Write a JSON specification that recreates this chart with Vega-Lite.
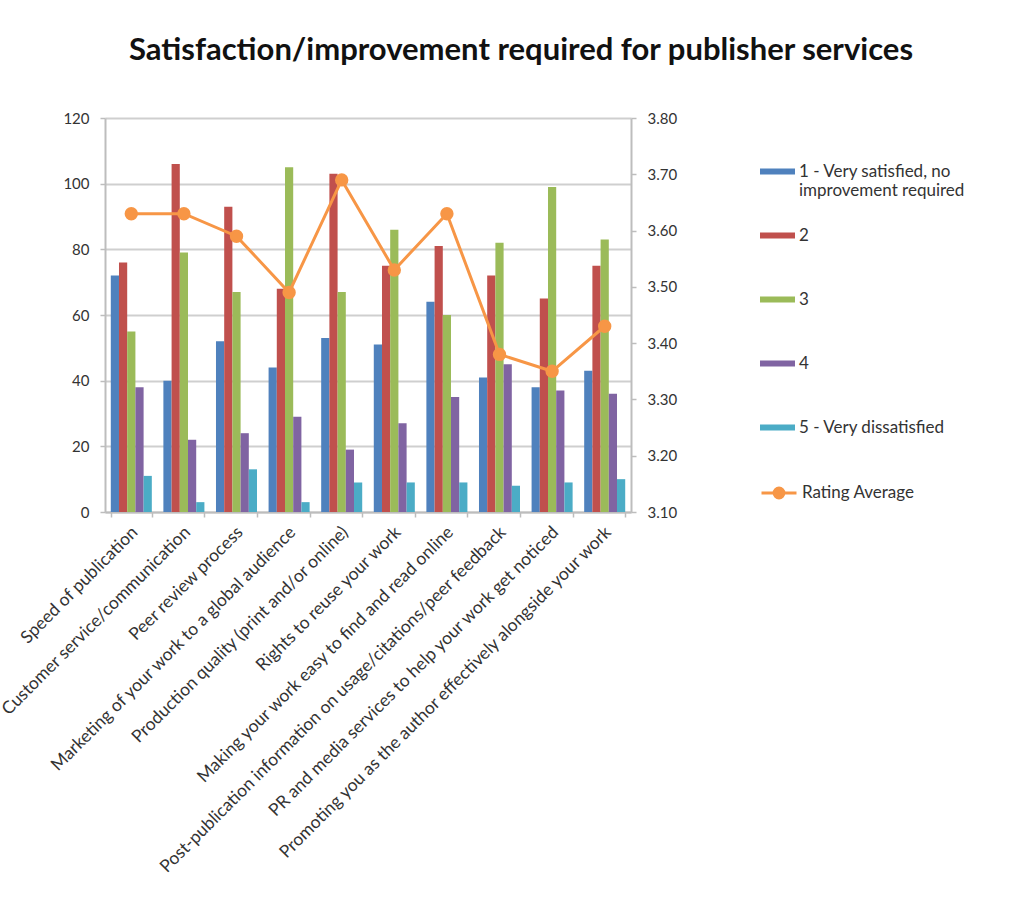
{
  "$schema": "https://vega.github.io/schema/vega-lite/v6.json",
  "width": 526,
  "height": 394,
  "autosize": {"type": "none"},
  "padding": {"left": 105, "top": 118, "right": 381, "bottom": 402},
  "background": "white",
  "title": {
    "text": "Satisfaction/improvement required for publisher services",
    "font": "Lato",
    "fontSize": 31,
    "fontWeight": "bold",
    "color": "#111111",
    "anchor": "middle",
    "dx": 153,
    "offset": 44
  },
  "config": {
    "font": "Lato",
    "view": {"stroke": null},
    "axis": {
      "labelFont": "Lato",
      "labelColor": "#333333",
      "domainColor": "#bdbdbd",
      "domainWidth": 2,
      "tickColor": "#bdbdbd",
      "tickWidth": 1.5,
      "gridColor": "#cfcfcf",
      "gridWidth": 2
    },
    "legend": {"labelFont": "Lato", "labelColor": "#333333"}
  },
  "datasets": {
    "bars": [
      {"service": "Speed of publication", "rating": "1 - Very satisfied, no improvement required", "count": 72},
      {"service": "Speed of publication", "rating": "2", "count": 76},
      {"service": "Speed of publication", "rating": "3", "count": 55},
      {"service": "Speed of publication", "rating": "4", "count": 38},
      {"service": "Speed of publication", "rating": "5 - Very dissatisfied", "count": 11},
      {"service": "Customer service/communication", "rating": "1 - Very satisfied, no improvement required", "count": 40},
      {"service": "Customer service/communication", "rating": "2", "count": 106},
      {"service": "Customer service/communication", "rating": "3", "count": 79},
      {"service": "Customer service/communication", "rating": "4", "count": 22},
      {"service": "Customer service/communication", "rating": "5 - Very dissatisfied", "count": 3},
      {"service": "Peer review process", "rating": "1 - Very satisfied, no improvement required", "count": 52},
      {"service": "Peer review process", "rating": "2", "count": 93},
      {"service": "Peer review process", "rating": "3", "count": 67},
      {"service": "Peer review process", "rating": "4", "count": 24},
      {"service": "Peer review process", "rating": "5 - Very dissatisfied", "count": 13},
      {"service": "Marketing of your work to a global audience", "rating": "1 - Very satisfied, no improvement required", "count": 44},
      {"service": "Marketing of your work to a global audience", "rating": "2", "count": 68},
      {"service": "Marketing of your work to a global audience", "rating": "3", "count": 105},
      {"service": "Marketing of your work to a global audience", "rating": "4", "count": 29},
      {"service": "Marketing of your work to a global audience", "rating": "5 - Very dissatisfied", "count": 3},
      {"service": "Production quality (print and/or online)", "rating": "1 - Very satisfied, no improvement required", "count": 53},
      {"service": "Production quality (print and/or online)", "rating": "2", "count": 103},
      {"service": "Production quality (print and/or online)", "rating": "3", "count": 67},
      {"service": "Production quality (print and/or online)", "rating": "4", "count": 19},
      {"service": "Production quality (print and/or online)", "rating": "5 - Very dissatisfied", "count": 9},
      {"service": "Rights to reuse your work", "rating": "1 - Very satisfied, no improvement required", "count": 51},
      {"service": "Rights to reuse your work", "rating": "2", "count": 75},
      {"service": "Rights to reuse your work", "rating": "3", "count": 86},
      {"service": "Rights to reuse your work", "rating": "4", "count": 27},
      {"service": "Rights to reuse your work", "rating": "5 - Very dissatisfied", "count": 9},
      {"service": "Making your work easy to find and read online", "rating": "1 - Very satisfied, no improvement required", "count": 64},
      {"service": "Making your work easy to find and read online", "rating": "2", "count": 81},
      {"service": "Making your work easy to find and read online", "rating": "3", "count": 60},
      {"service": "Making your work easy to find and read online", "rating": "4", "count": 35},
      {"service": "Making your work easy to find and read online", "rating": "5 - Very dissatisfied", "count": 9},
      {"service": "Post-publication information on usage/citations/peer feedback", "rating": "1 - Very satisfied, no improvement required", "count": 41},
      {"service": "Post-publication information on usage/citations/peer feedback", "rating": "2", "count": 72},
      {"service": "Post-publication information on usage/citations/peer feedback", "rating": "3", "count": 82},
      {"service": "Post-publication information on usage/citations/peer feedback", "rating": "4", "count": 45},
      {"service": "Post-publication information on usage/citations/peer feedback", "rating": "5 - Very dissatisfied", "count": 8},
      {"service": "PR and media services to help your work get noticed", "rating": "1 - Very satisfied, no improvement required", "count": 38},
      {"service": "PR and media services to help your work get noticed", "rating": "2", "count": 65},
      {"service": "PR and media services to help your work get noticed", "rating": "3", "count": 99},
      {"service": "PR and media services to help your work get noticed", "rating": "4", "count": 37},
      {"service": "PR and media services to help your work get noticed", "rating": "5 - Very dissatisfied", "count": 9},
      {"service": "Promoting you as the author effectively alongside your work", "rating": "1 - Very satisfied, no improvement required", "count": 43},
      {"service": "Promoting you as the author effectively alongside your work", "rating": "2", "count": 75},
      {"service": "Promoting you as the author effectively alongside your work", "rating": "3", "count": 83},
      {"service": "Promoting you as the author effectively alongside your work", "rating": "4", "count": 36},
      {"service": "Promoting you as the author effectively alongside your work", "rating": "5 - Very dissatisfied", "count": 10}
    ],
    "avg": [
      {"service": "Speed of publication", "average": 3.63},
      {"service": "Customer service/communication", "average": 3.63},
      {"service": "Peer review process", "average": 3.59},
      {"service": "Marketing of your work to a global audience", "average": 3.49},
      {"service": "Production quality (print and/or online)", "average": 3.69},
      {"service": "Rights to reuse your work", "average": 3.53},
      {"service": "Making your work easy to find and read online", "average": 3.63},
      {"service": "Post-publication information on usage/citations/peer feedback", "average": 3.38},
      {"service": "PR and media services to help your work get noticed", "average": 3.35},
      {"service": "Promoting you as the author effectively alongside your work", "average": 3.43}
    ]
  },
  "layer": [
    {
      "data": {"name": "bars"},
      "mark": {"type": "bar"},
      "encoding": {
        "x": {
          "field": "service",
          "type": "nominal",
          "sort": null,
          "scale": {
            "domain": [
              "Speed of publication",
              "Customer service/communication",
              "Peer review process",
              "Marketing of your work to a global audience",
              "Production quality (print and/or online)",
              "Rights to reuse your work",
              "Making your work easy to find and read online",
              "Post-publication information on usage/citations/peer feedback",
              "PR and media services to help your work get noticed",
              "Promoting you as the author effectively alongside your work"
            ],
            "paddingInner": 0.22,
            "paddingOuter": 0.11
          },
          "axis": {
            "title": null,
            "labelAngle": -45,
            "labelFontSize": 17.5,
            "labelLimit": 800,
            "tickBand": "extent",
            "tickSize": 5,
            "labelPadding": 6,
            "labelOffset": -3
          }
        },
        "xOffset": {
          "field": "rating",
          "type": "nominal",
          "sort": null
        },
        "y": {
          "field": "count",
          "type": "quantitative",
          "scale": {"domain": [0, 120]},
          "axis": {
            "title": null,
            "values": [0, 20, 40, 60, 80, 100, 120],
            "grid": true,
            "labelFontSize": 15,
            "tickSize": 5,
            "labelPadding": 11
          }
        },
        "color": {
          "field": "rating",
          "type": "nominal",
          "sort": null,
          "scale": {
            "domain": ["1 - Very satisfied, no improvement required", "2", "3", "4", "5 - Very dissatisfied"],
            "range": ["#4F81BD", "#C0504D", "#9BBB59", "#8064A2", "#4BACC6"]
          },
          "legend": {
            "title": null,
            "orient": "none",
            "legendX": 655,
            "legendY": 36,
            "symbolType": "M-1,-0.17H1V0.17H-1Z",
            "symbolSize": 1225,
            "symbolStrokeWidth": 0,
            "labelFontSize": 17,
            "labelOffset": 4,
            "labelLimit": 400,
            "gridAlign": "all",
            "rowPadding": 19,
            "labelExpr": "datum.label == '1 - Very satisfied, no improvement required' ? ['1 - Very satisfied, no', 'improvement required'] : datum.label"
          }
        }
      }
    },
    {
      "data": {"name": "avg"},
      "mark": {
        "type": "line",
        "strokeWidth": 3,
        "point": {"filled": true, "size": 130, "color": "#F79646"}
      },
      "encoding": {
        "x": {"field": "service", "type": "nominal", "sort": null},
        "y": {
          "field": "average",
          "type": "quantitative",
          "scale": {"domain": [3.1, 3.8], "zero": false},
          "axis": {
            "title": null,
            "orient": "right",
            "values": [3.1, 3.2, 3.3, 3.4, 3.5, 3.6, 3.7, 3.8],
            "format": ".2f",
            "grid": false,
            "labelFontSize": 15,
            "tickSize": 5,
            "labelPadding": 11
          }
        },
        "stroke": {
          "datum": "Rating Average",
          "scale": {"range": ["#F79646"]},
          "legend": {
            "title": null,
            "orient": "none",
            "legendX": 655,
            "legendY": 356,
            "symbolType": "M-1,0H1M-0.28,0A0.28,0.28,0,1,0,0.28,0A0.28,0.28,0,1,0,-0.28,0Z",
            "symbolSize": 1225,
            "symbolStrokeWidth": 3,
            "symbolFillColor": "#F79646",
            "symbolStrokeColor": "#F79646",
            "labelFontSize": 17,
            "labelOffset": 4
          }
        }
      }
    }
  ],
  "resolve": {"scale": {"y": "independent"}}
}
